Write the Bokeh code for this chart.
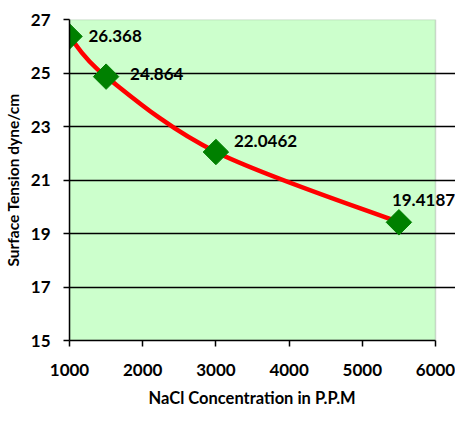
import numpy as np
from bokeh.plotting import figure
from bokeh.models import FixedTicker, Label, BoxAnnotation, Title
from bokeh.embed import file_html
from bokeh.resources import INLINE

# data
concentration = [1000, 1500, 3000, 5500]
tension = [26.368, 24.864, 22.0462, 19.4187]
labels = ["26.368", "24.864", "22.0462", "19.4187"]
x_ticks = [1000, 2000, 3000, 4000, 5000, 6000]
y_ticks = [15, 17, 19, 21, 23, 25, 27]
x_title = "NaCl Concentration in P.P.M"
y_title = "Surface Tension dyne/cm"

# label pixel offsets (style)
lab_dx = [19, 24, 18, -7]
lab_dy = [0, 3, 11, 22]

FONT = "Lato"
X_MIN, X_MAX = 1000, 6000
Y_MIN, Y_MAX = 15, 27
# extend the frame 20px to the right of the plotting area so labels are not clipped
area_w, extra_w = 366, 20
x_end = X_MAX + (X_MAX - X_MIN) * extra_w / area_w

p = figure(width=455, height=421, output_backend="svg", toolbar_location=None,
           x_range=(X_MIN, x_end), y_range=(Y_MIN, Y_MAX),
           min_border_left=69, min_border_right=0, min_border_top=19, min_border_bottom=81)
p.background_fill_color = "white"
p.border_fill_color = "white"
p.outline_line_color = None

p.add_layout(BoxAnnotation(left=X_MIN, right=X_MAX, bottom=Y_MIN, top=Y_MAX,
                           fill_color="#CCFFCC", fill_alpha=1.0,
                           line_color="#808080", line_width=1.5, level="image"))

p.xgrid.visible = False
p.ygrid.ticker = FixedTicker(ticks=[17, 19, 21, 23, 25])
p.ygrid.grid_line_color = "black"
p.ygrid.grid_line_width = 1.5
p.ygrid.bounds = (X_MIN, X_MAX)

for ax in (p.xaxis[0], p.yaxis[0]):
    ax.axis_line_color = "black"
    ax.axis_line_width = 1.5
    ax.major_tick_line_color = "black"
    ax.major_tick_line_width = 1.5
    ax.major_tick_in = 0
    ax.major_tick_out = 6
    ax.minor_tick_line_color = None
    ax.major_label_text_font = FONT
    ax.major_label_text_font_style = "bold"
    ax.major_label_text_font_size = "17px"
    ax.major_label_text_color = "black"
    ax.axis_label_text_font = FONT
    ax.axis_label_text_font_style = "bold"
    ax.axis_label_text_color = "black"

p.xaxis.bounds = (X_MIN, X_MAX)
p.xaxis.ticker = FixedTicker(ticks=x_ticks)
p.yaxis.ticker = FixedTicker(ticks=y_ticks)
p.yaxis.axis_label = y_title
p.yaxis.axis_label_text_font_size = "15.5px"
p.xaxis.major_label_standoff = 17
p.yaxis.major_label_standoff = 13
p.yaxis.axis_label_standoff = 6

# x-axis title, centred under the 1000-6000 plotting area
p.add_layout(Title(text=x_title, align="left", offset=79, standoff=14,
                   text_font=FONT, text_font_style="bold", text_font_size="16.5px",
                   text_color="black"), "below")

# smoothed line (Excel-style Bezier through the points)
xs = np.array(concentration, dtype=float)
ys = np.array(tension, dtype=float)
n = len(xs)
x0, y0, x1, y1, cx0, cy0, cx1, cy1 = [], [], [], [], [], [], [], []
for i in range(n - 1):
    im1 = max(i - 1, 0)
    ip2 = min(i + 2, n - 1)
    x0.append(xs[i]); y0.append(ys[i])
    x1.append(xs[i + 1]); y1.append(ys[i + 1])
    cx0.append(xs[i] + (xs[i + 1] - xs[im1]) / 6)
    cy0.append(ys[i] + (ys[i + 1] - ys[im1]) / 6)
    cx1.append(xs[i + 1] - (xs[ip2] - xs[i]) / 6)
    cy1.append(ys[i + 1] - (ys[ip2] - ys[i]) / 6)
p.bezier(x0=x0, y0=y0, x1=x1, y1=y1, cx0=cx0, cy0=cy0, cx1=cx1, cy1=cy1,
         line_color="#FF0000", line_width=4.5)

p.scatter(concentration, tension, marker="square", angle=np.pi / 4, size=18,
          fill_color="#008000", line_color="#008000")

for xv, yv, t, dx, dy in zip(concentration, tension, labels, lab_dx, lab_dy):
    p.add_layout(Label(x=xv, y=yv, text=t, x_offset=dx, y_offset=dy,
                       text_font=FONT, text_font_style="bold", text_font_size="17px",
                       text_align="left", text_baseline="middle", text_color="black"))

open("out.html", "w").write(file_html(p, INLINE))
